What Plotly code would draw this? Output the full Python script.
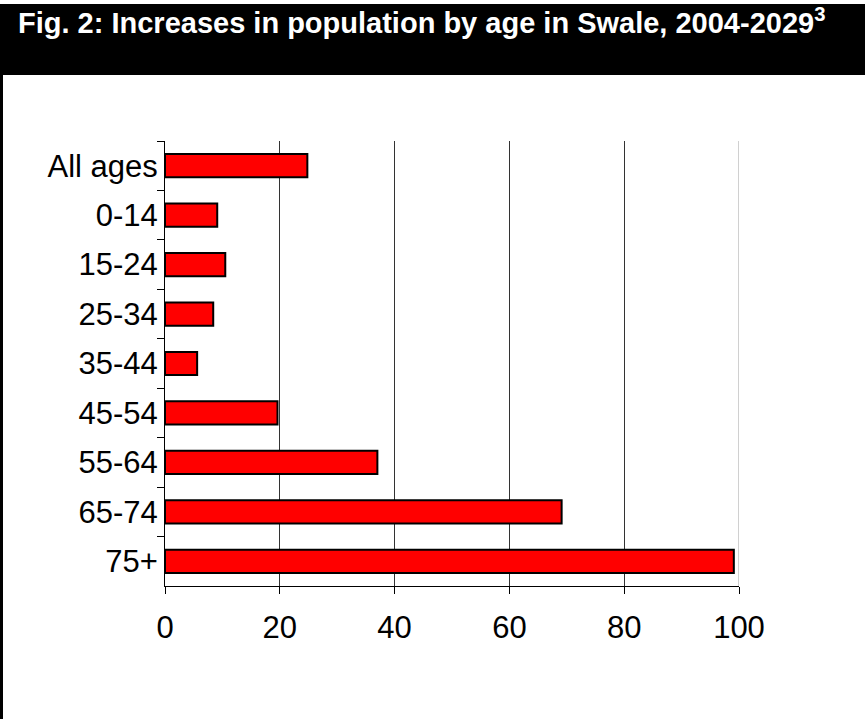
import plotly.graph_objects as go

categories = ["All ages", "0-14", "15-24", "25-34", "35-44", "45-54", "55-64", "65-74", "75+"]
values = [24.8, 9.1, 10.5, 8.4, 5.6, 19.6, 37.0, 69.1, 99.1]
x_ticks = [0, 20, 40, 60, 80, 100]
title_text = "Fig. 2: Increases in population by age in Swale, 2004-2029<sup>3</sup>"

W, H = 865, 719
L, R, T, B = 165, 739, 141, 586
pw, ph = R - L, B - T

def px_x(p):
    return (p - L) / pw

def px_y(p):
    return (B - p) / ph

FONT = "Liberation Sans, Arial, sans-serif"

fig = go.Figure(
    go.Bar(
        x=values,
        y=categories,
        orientation="h",
        marker=dict(color="#FF0000", line=dict(color="#000000", width=2)),
        width=0.47,
    )
)

fig.update_layout(
    width=W,
    height=H,
    margin=dict(l=L, r=W - R, t=T, b=H - B, pad=0),
    paper_bgcolor="white",
    plot_bgcolor="white",
    showlegend=False,
    font=dict(family=FONT, color="black", size=31),
    xaxis=dict(
        range=[0, 100],
        tickvals=x_ticks,
        ticktext=[str(v) for v in x_ticks],
        showgrid=True,
        gridcolor="#333333",
        gridwidth=1,
        zeroline=False,
        showline=True,
        linecolor="#000000",
        linewidth=1,
        ticks="outside",
        ticklen=7,
        tickcolor="#000000",
        tickfont=dict(size=31, family=FONT),
        ticklabelstandoff=7,
    ),
    yaxis=dict(
        autorange="reversed",
        showgrid=False,
        zeroline=False,
        showline=True,
        linecolor="#000000",
        linewidth=1,
        ticks="outside",
        tickson="boundaries",
        ticklen=7,
        tickcolor="#000000",
        tickfont=dict(size=31, family=FONT),
    ),
    shapes=[
        dict(type="rect", xref="paper", yref="paper",
             x0=px_x(0), x1=px_x(W), y0=px_y(75), y1=px_y(4),
             fillcolor="black", line=dict(width=0), layer="above"),
        dict(type="line", xref="paper", yref="paper",
             x0=px_x(1.5), x1=px_x(1.5), y0=px_y(H), y1=px_y(4),
             line=dict(color="black", width=3), layer="above"),
        dict(type="line", xref="x", yref="paper",
             x0=100, x1=100, y0=0, y1=1,
             line=dict(color="#d0d0d0", width=2), layer="above"),
    ],
    annotations=[
        dict(text="<b>" + title_text + "</b>", xref="paper", yref="paper",
             x=px_x(16), y=px_y(21), xanchor="left", yanchor="middle",
             showarrow=False, font=dict(family=FONT, size=29, color="white")),
    ],
)

fig.write_html("out.html")
